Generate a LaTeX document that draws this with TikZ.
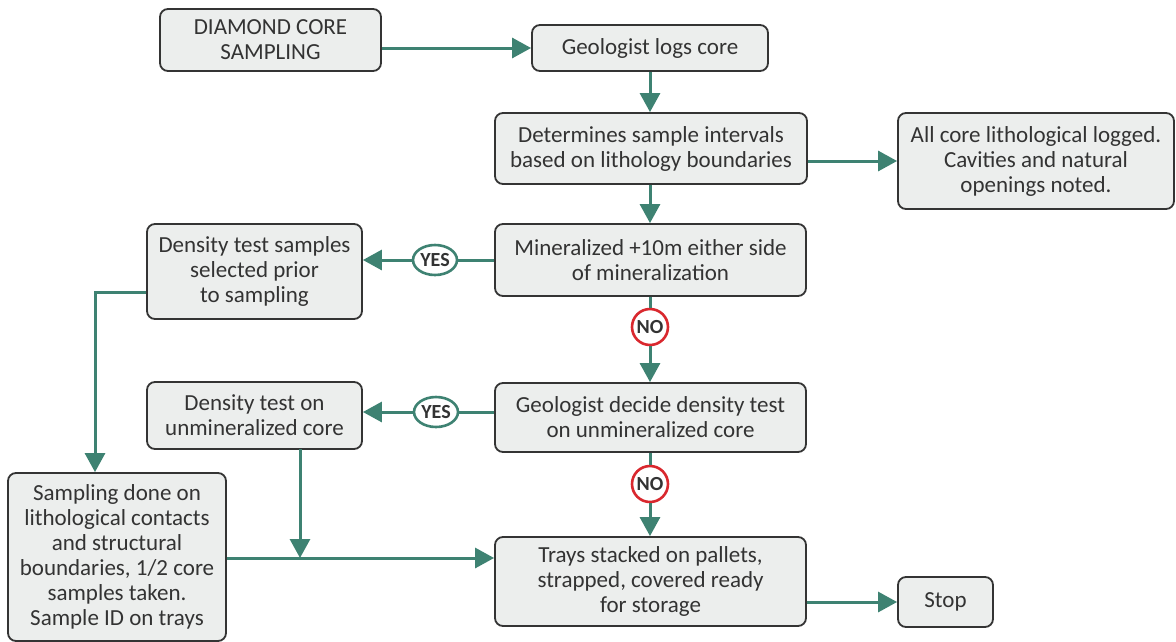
\documentclass[tikz,border=0pt]{standalone}
\usepackage{fontspec}
\setmainfont{Carlito}
\usetikzlibrary{arrows.meta,shapes.geometric}
\definecolor{teal}{HTML}{3E8272}
\definecolor{boxfill}{HTML}{ECEEED}
\definecolor{boxline}{HTML}{343434}
\definecolor{txt}{HTML}{333333}
\definecolor{nored}{HTML}{D9282E}
\tikzset{
  box/.style={draw=boxline, fill=boxfill, line width=1.8pt, rounded corners=8pt,
    align=center, text=txt, font=\fontsize{23}{25}\selectfont, inner sep=0pt},
  arr/.style={draw=teal, line width=3pt, -{Triangle[length=19pt,width=20pt]}},
  ln/.style={draw=teal, line width=3pt},
  yes/.style={ellipse, draw=teal, line width=2.6pt, fill=white, minimum width=44pt,
    minimum height=30pt, inner sep=0pt, text=txt, font=\fontsize{20}{20}\selectfont\bfseries},
  no/.style={circle, draw=nored, line width=2.6pt, fill=white, minimum size=36pt,
    inner sep=0pt, text=txt, font=\fontsize{20}{20}\selectfont\bfseries},
}
\begin{document}
\begin{tikzpicture}[x=1pt,y=-1pt]
\useasboundingbox (0,0) rectangle (1176,641);
\node[box, minimum width=221pt, minimum height=62pt] (dcs) at (270.5,40) {DIAMOND CORE\\SAMPLING};
\node[box, minimum width=236pt, minimum height=46pt] (glc) at (650,48) {Geologist logs core};
\node[box, minimum width=312pt, minimum height=71pt] (dsi) at (651,148.5) {Determines sample intervals\\based on lithology boundaries};
\node[box, minimum width=276pt, minimum height=96pt] (acl) at (1036,161) {All core lithological logged.\\Cavities and natural\\openings noted.};
\node[box, minimum width=311pt, minimum height=72pt] (min) at (650.5,260) {Mineralized +10m either side\\of mineralization};
\node[box, minimum width=215pt, minimum height=95pt] (dts) at (254.5,271.5) {Density test samples\\selected prior\\to sampling};
\node[box, minimum width=311pt, minimum height=69pt] (gdd) at (650.5,417.5) {Geologist decide density test\\on unmineralized core};
\node[box, minimum width=215pt, minimum height=67pt] (dtu) at (254.5,415.5) {Density test on\\unmineralized core};
\node[box, minimum width=218pt, minimum height=168pt] (sdo) at (117,557) {Sampling done on\\lithological contacts\\and structural\\boundaries, 1/2 core\\samples taken.\\Sample ID on trays};
\node[box, minimum width=311pt, minimum height=89pt] (tsp) at (650.5,581.5) {Trays stacked on pallets,\\strapped, covered ready\\for storage};
\node[box, minimum width=95pt, minimum height=50pt] (stp) at (945.5,602) {Stop};
\node[yes] (y1) at (435,260) {YES};
\node[yes] (y2) at (436,412) {YES};
\node[no] (n1) at (650,327) {NO};
\node[no] (n2) at (650,484) {NO};
\coordinate (c1) at (95,292);
\coordinate (c2) at (300,449);
\coordinate (c3) at (300,558);
\draw[arr] (dcs.east |- 0,48) -- (glc.west);
\draw[arr] (glc.south) -- (dsi.north -| glc.south);
\draw[arr] (dsi.east |- 0,161) -- (acl.west);
\draw[arr] (dsi.south -| 650,0) -- (min.north -| 650,0);
\draw[ln] (min.west) -- (y1.east);
\draw[arr] (y1.west) -- (dts.east |- y1.west);
\draw[ln] (min.south -| n1.north) -- (n1.north);
\draw[arr] (n1.south) -- (gdd.north -| n1.south);
\draw[ln] (gdd.west |- y2.east) -- (y2.east);
\draw[arr] (y2.west) -- (dtu.east |- y2.west);
\draw[ln] (gdd.south -| n2.north) -- (n2.north);
\draw[arr] (n2.south) -- (tsp.north -| n2.south);
\draw[arr] (dts.west |- c1) -- (c1) -- (sdo.north -| c1);
\draw[arr] (c2) -- (c3);
\draw[arr] (sdo.east |- c3) -- (tsp.west |- c3);
\draw[arr] (tsp.east |- stp.west) -- (stp.west);
\end{tikzpicture}
\end{document}
